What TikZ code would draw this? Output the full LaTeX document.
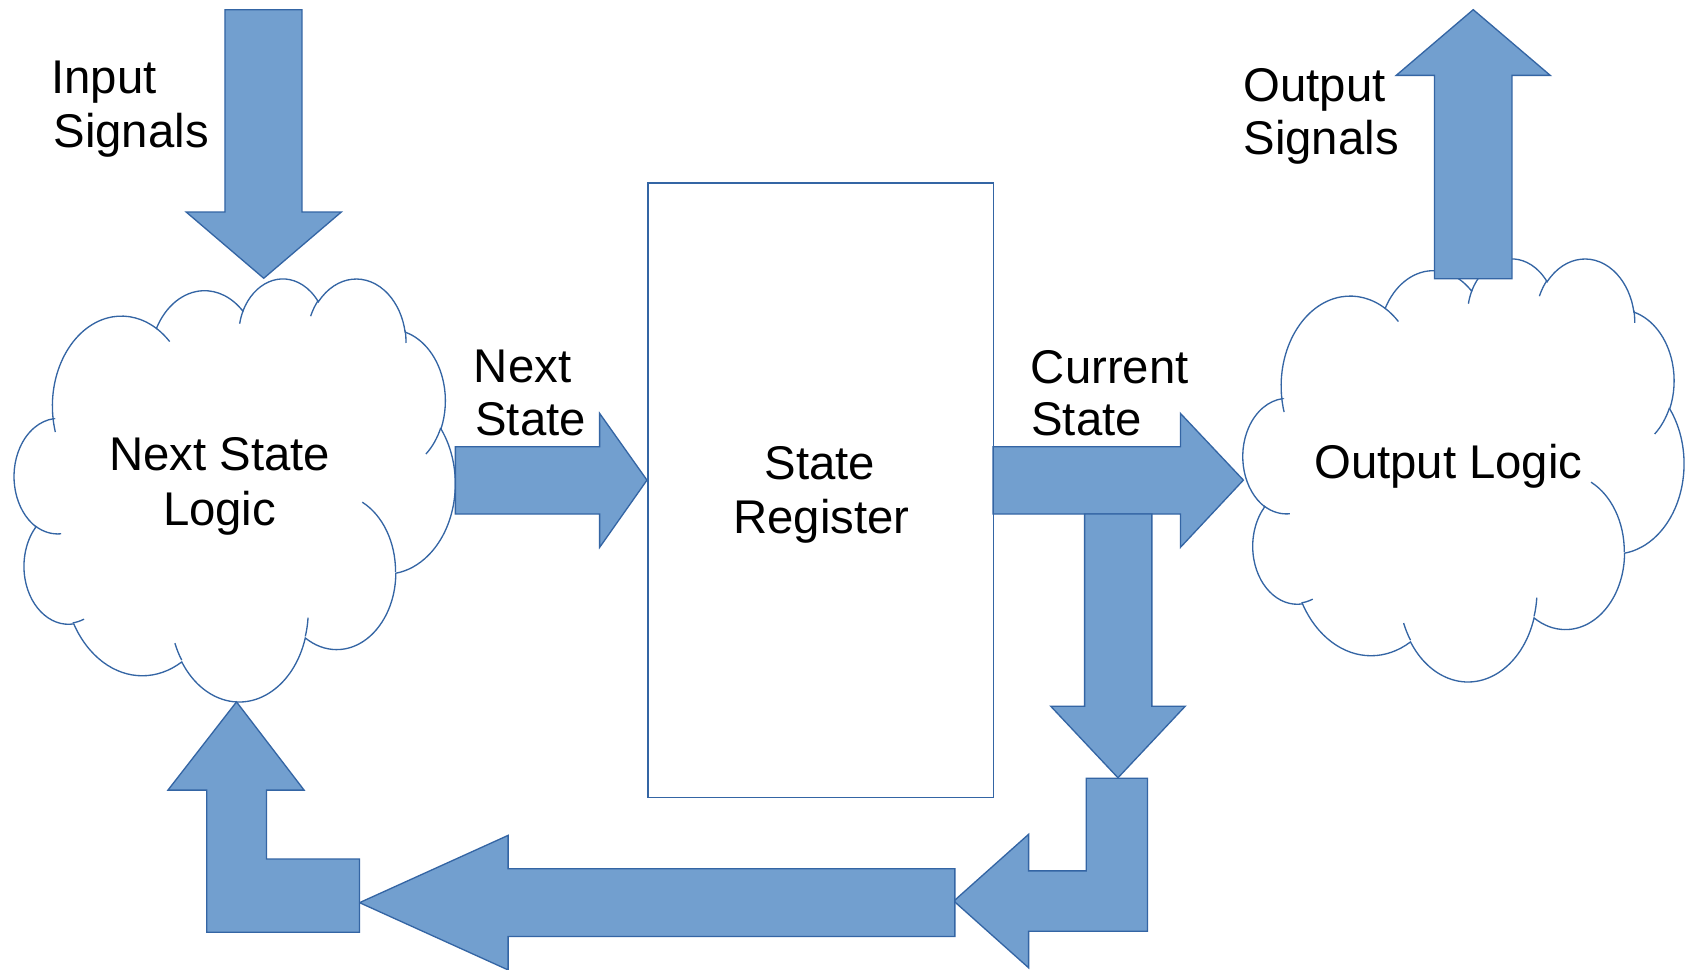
\documentclass[tikz,border=0pt]{standalone}
\usepackage{fontspec}
\setmainfont{Liberation Sans}
\definecolor{arrowfill}{HTML}{729FCF}
\definecolor{edgeblue}{HTML}{3465A4}
\tikzset{
  outline/.style={draw=edgeblue, line width=0.35pt},
  blockarrow/.style={outline, fill=arrowfill, line join=miter},
  lbl/.style={inner sep=0pt, font=\fontsize{12.5}{15}\selectfont},
  regbox/.style={outline, fill=white, inner sep=0pt,
    minimum width=3.206cm, minimum height=5.707cm},
  % cloud outline built from eleven elliptic bumps plus inner creases
  puff/.pic={
    \begin{scope}[x=0.04103cm, y=-0.03926cm]
      \draw[outline, fill=white] (9.028,33.264)
        arc[start angle=-187.75, delta angle=128.12, x radius=15.632, y radius=21.273]
        arc[start angle=-152.01, delta angle=106.59, x radius=12.345, y radius=16.822]
        arc[start angle=-153.49, delta angle=116.16, x radius=10.104, y radius=13.762]
        arc[start angle=-139.72, delta angle=129.51, x radius=11.243, y radius=15.266]
        arc[start angle=-74.77,  delta angle=97.98,  x radius=12.345, y radius=16.836]
        arc[start angle=-37.53,  delta angle=119.39, x radius=15.683, y radius=21.343]
        arc[start angle=0.46,    delta angle=121.51, x radius=13.391, y radius=18.211]
        arc[start angle=16.84,   delta angle=129.39, x radius=15.630, y radius=21.331]
        arc[start angle=59.99,   delta angle=90.19,  x radius=17.870, y radius=24.405]
        arc[start angle=-276.69, delta angle=139.80, x radius=10.093, y radius=13.699]
        arc[start angle=-239.64, delta angle=143.75, x radius=10.058, y radius=13.762]
        -- cycle;
      \draw[outline]
        (10.863,60.595) arc[start angle=85.55,   delta angle=34.81, x radius=10.058, y radius=13.762]
        (16.037,80.785) arc[start angle=68.24,   delta angle=15.07, x radius=10.093, y radius=13.699]
        (38.144,90.486) arc[start angle=146.23,  delta angle=12.24, x radius=15.630, y radius=21.331]
        (66.729,80.442) arc[start angle=4.74,    delta angle=12.10, x radius=15.630, y radius=21.331]
        (79.002,53.134) arc[start angle=-64.03,  delta angle=64.49, x radius=13.391, y radius=18.211]
        (96.755,35.542) arc[start angle=23.21,   delta angle=26.43, x radius=12.345, y radius=16.836]
        (88.713,12.560) arc[start angle=-10.21,  delta angle=11.03, x radius=11.243, y radius=15.266]
        (67.310,9.148)  arc[start angle=-156.28, delta angle=16.56, x radius=11.243, y radius=15.266]
        (51.252,10.926) arc[start angle=-167.73, delta angle=14.24, x radius=10.104, y radius=13.762]
        (32.407,12.019) arc[start angle=-59.63,  delta angle=13.93, x radius=15.632, y radius=21.273]
        (9.553,36.549)  arc[start angle=163.20,  delta angle=9.05,  x radius=15.632, y radius=21.273];
    \end{scope}
  }
}
\begin{document}
\begin{tikzpicture}[x=0.01cm, y=-0.01cm]
  \useasboundingbox (0,0) rectangle (1568,901);
  \clip (0,0) rectangle (1568,901);
  \fill[white] (0,0) rectangle (1568,901);

  % logic blocks
  \pic (nextlogic) at (12.2,257.8) {puff};
  \pic (outlogic) at (1153.6,239.2) {puff};
  \node[regbox] (reg) at (762.2,455.4) {};

  % block arrows
  \draw[blockarrow] (209,9) -- (280.5,9) -- (280.5,197) -- (317,197)
    -- (245,258.5) -- (173,197) -- (209,197) -- cycle;
  \draw[blockarrow] (1332.5,259) -- (1332.5,70) -- (1297,70) -- (1368.5,9)
    -- (1440,70) -- (1404.5,70) -- (1404.5,259) -- cycle;
  \draw[blockarrow] (423,415) -- (557,415) -- (557,384) -- (601,446)
    -- (557,508.5) -- (557,477.5) -- (423,477.5) -- cycle;
  \draw[blockarrow] (922.5,415) -- (1096.5,415) -- (1096.5,384) -- (1155,446)
    -- (1096.5,508.5) -- (1096.5,477.5) -- (922.5,477.5) -- cycle;
  \draw[blockarrow] (1007.5,477.5) -- (1070,477.5) -- (1070,656) -- (1101,656)
    -- (1038.5,722.5) -- (976,656) -- (1007.5,656) -- cycle;
  \draw[blockarrow] (1009,723) -- (1066,723) -- (1066,865) -- (955.5,865)
    -- (955.5,899) -- (886,837) -- (955.5,775) -- (955.5,809) -- (1009,809) -- cycle;
  \draw[blockarrow] (887,807) -- (472,807) -- (472,776) -- (334,838.5)
    -- (472,901) -- (472,870) -- (887,870) -- cycle;
  \draw[blockarrow] (192,866) -- (192,734) -- (156,734) -- (219.7,652)
    -- (282.5,734) -- (247.5,734) -- (247.5,798) -- (334,798) -- (334,866) -- cycle;

  % labels
  \node[lbl, anchor=base west] (inA) at (47,87.3) {Input};
  \node[lbl, anchor=base west] (inB) at (49,136.8) {Signals};
  \node[lbl, anchor=base west] (outA) at (1154.4,94.4) {Output};
  \node[lbl, anchor=base west] (outB) at (1154.5,143.4) {Signals};
  \node[lbl, anchor=base west] (nsA) at (439.5,355.5) {Next};
  \node[lbl, anchor=base west] (nsB) at (440.8,405) {State};
  \node[lbl, anchor=base west] (csA) at (957,356.1) {Current};
  \node[lbl, anchor=base west] (csB) at (957.3,405) {State};
  \node[lbl, anchor=base] (nlA) at (204,437.2) {Next State};
  \node[lbl, anchor=base] (nlB) at (204,487.7) {Logic};
  \node[lbl, anchor=base] (ol) at (1345.4,444.6) {Output Logic};
  \node[lbl, anchor=base] (regA) at (761.7,445.3) {State};
  \node[lbl, anchor=base] (regB) at (763,495.4) {Register};
\end{tikzpicture}
\end{document}
